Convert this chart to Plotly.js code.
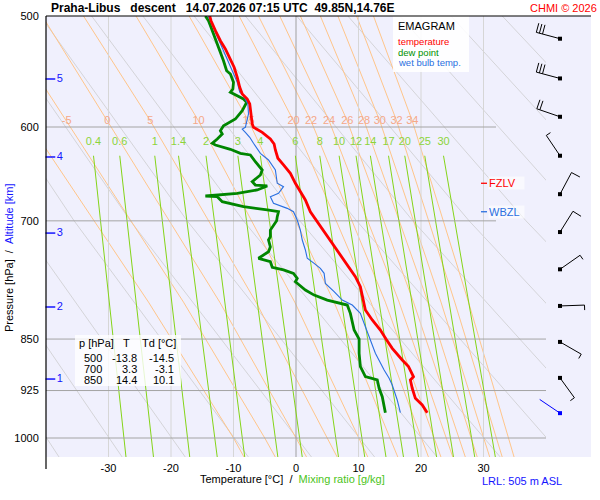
<!DOCTYPE html>
<html><head><meta charset="utf-8">
<script src="https://cdn.plot.ly/plotly-3.0.1.min.js"></script>
<style>html,body{margin:0;padding:0;background:#fff;}#chart{width:600px;height:500px;}</style>
</head><body><div id="chart"></div>
<script>
// ---------------- DATA ----------------
const tempP = [500,503.9,512.2,520.7,527.8,535.1,543.9,553.0,562.1,568.3,573.0,577.7,587.3,597.1,600.3,605.3,611.9,617.0,623.1,631.6,638.6,647.4,658.1,667.3,676.4,689.6,700,708.6,718.4,726.3,734.3,740.3,758.8,767.2,779.9,792.9,810.4,823.8,837.5,850,863.0,879.7,889.4,904.2,909.1,921.6,936.9,947.2,959.3];
const tempT = [-13.8,-13.6,-12.9,-12.1,-11.3,-10.6,-9.9,-9.4,-9.0,-8.6,-7.8,-7.4,-7.2,-7.0,-6.8,-5.4,-4.1,-3.5,-3.3,-2.9,-2.0,-0.9,-0.1,0.7,1.5,2.3,3.3,4.2,5.0,5.8,6.6,7.1,8.7,9.5,10.3,10.6,11.1,12.2,13.5,14.4,15.4,17.0,18.0,18.8,18.3,18.6,19.1,20.2,21.0];
const dewP = [500,503.9,509.4,515.0,522.1,529.3,538.1,547.0,550.0,557.5,563.7,566.7,569.9,573.0,576.2,584.2,592.2,598.7,603.7,606.9,611.9,616.3,618.0,622.4,626.5,628.2,635.2,643.9,649.2,656.4,660.0,661.0,665.4,669.0,672.0,672.8,678.3,683.9,687.6,689.6,695.2,700,710.7,718.4,722.4,730.5,736.4,744.4,748.6,755.5,758.8,763.0,769.3,773.6,784.3,790.8,797.3,801.6,803.8,814.9,837.5,850,870.1,889.4,904.2,909.1,921.6,934.4,959.3];
const dewT = [-14.5,-14.0,-13.6,-13.2,-12.6,-12.1,-11.6,-11.1,-10.5,-10.0,-10.1,-10.5,-9.4,-8.4,-7.9,-8.6,-9.7,-11.6,-12.1,-11.8,-12.6,-13.4,-12.9,-10.5,-8.9,-7.3,-6.5,-5.4,-5.7,-7.0,-6.5,-4.6,-6.2,-9.4,-14.5,-12.6,-11.8,-8.4,-4.6,-2.8,-3.0,-3.1,-4.1,-4.1,-4.4,-4.1,-4.4,-6.0,-4.1,-3.8,-2.0,-0.4,0.2,-0.1,1.5,2.9,5.0,7.1,8.2,8.7,9.3,10.1,10.1,10.3,11.1,13.0,13.3,13.8,14.3];
const wbP = [500,503.9,513.6,523.5,529.3,539.5,548.5,557.5,566.7,569.9,577.7,587.3,600.3,602.0,605.3,610.2,616.3,626.5,633.4,643.9,658.1,661.8,669.0,672.8,680.1,685.8,689.6,699.0,710.7,722.4,734.3,744.4,750.6,756.8,763.0,775.7,786.4,797.3,803.8,814.9,833.0,846.7,870.1,894.3,906.6,916.7,939.5,959.3];
const wbT = [-14.1,-13.7,-12.9,-12.1,-11.6,-10.8,-10.1,-9.4,-9.0,-8.4,-7.7,-7.6,-8.1,-8.6,-8.1,-7.4,-6.8,-5.7,-4.4,-3.3,-3.0,-2.0,-2.8,-4.1,-3.6,-1.4,-0.4,0.2,0.7,1.0,1.5,1.8,2.9,3.9,4.5,4.7,6.1,7.4,9.0,10.3,11.1,11.7,12.7,14.1,14.9,15.4,16.2,16.7];

// table
const tableP  = [500, 700, 850];
const tableT  = [-13.8, 3.3, 14.4];
const tableTd = [-14.5, -3.1, 10.1];

// wind
const windP   = [519, 554, 590, 629, 670, 713, 758, 805, 854, 906, 960];
const windDir = [285, 285, 289, 326, 28, 32, 55, 88, 120, 144, 304];
const windSpd = [30, 30, 20, 5, 10, 10, 5, 5, 5, 5, 2];

// altitude marks (km) at pressure
const altKm = [1, 2, 3, 4, 5];
const altP  = [907.7, 806.4, 714.2, 630.3, 554.5];

// freezing / wet-bulb zero levels
const levelNames = ['FZLV', 'WBZL'];
const levelP     = [658.1, 689.6];

// axes ticks
const tTicks = [-30, -20, -10, 0, 10, 20, 30];
const pTicks = [500, 600, 700, 850, 925, 1000];
const gridP    = [600, 700, 850, 925, 1000];
const gridEndT = [32, 32, 40, 40, 40];

// mixing ratio lines (g/kg): temperature at top and bottom pressure
const mixLabels = ['0.4','0.6','1','1.4','2','3','4','6','8','10','12','14','17','20','25','30'];
const mixTopT = [-32.4,-28.2,-22.6,-18.8,-14.4,-9.3,-5.7,-0.1,3.8,6.9,9.6,11.9,14.8,17.4,20.6,23.6];
const mixBotT = [-27.2,-22.8,-17.0,-12.6,-8.2,-2.9,1.0,6.8,11.0,14.4,17.2,19.6,22.5,25.2,28.6,31.9];
const mixTopP = 629, mixBotP = 1032, mixLabelP = 615;

// saturated (pseudo) adiabats, labelled by wet-bulb potential temperature
const saTheta = [-10,-5,0,5,10,15,20,22,24,26,28,30,32,34];
const saP = [500, 594, 800, 1000, 1032];
const saT = [
  [-54.0,-43.0,-23.6,-10,-8.3],
  [-47.6,-36.7,-18.0,-5,-3.3],
  [-40.6,-30.2,-12.2,0,1.7],
  [-34.0,-23.3,-6.4,5,6.6],
  [-25.6,-15.6,-0.2,10,11.5],
  [-17.1,-7.6,6.1,15,16.3],
  [-9.1,-0.4,12.0,20,21.2],
  [-6.0,2.4,14.3,22,23.2],
  [-2.6,5.3,16.5,24,25.1],
  [0.7,8.2,18.8,26,27.1],
  [3.9,10.9,21.1,28,29.0],
  [6.7,13.4,23.2,30,31.0],
  [9.7,16.1,25.4,32,33.0],
  [12.4,18.6,27.6,34,34.9]
];
const saLabelP = 594;

// dry adiabats: temperature at 500, 700, 1032 hPa
const dryP = [500, 700, 1032];
const dryT = [
  [-81.9,-62.6,-37.9],[-73.7,-53.6,-27.8],[-65.5,-44.5,-17.7],[-57.3,-35.5,-7.6],
  [-49.1,-26.5,2.5],[-40.9,-17.4,12.6],[-32.7,-8.4,22.6],[-24.5,0.6,32.7],
  [-16.3,9.7,42.8],[-8.1,18.7,52.9],[0.1,27.7,63.0],[8.3,36.8,73.1],
  [16.6,45.8,83.2],[24.8,54.8,93.3],[33.0,63.8,103.4]
];

// ---------------- LAYOUT GEOMETRY ----------------
const W=600, H=500, ML=46, MR=9, MT=16, MB=43;
const PW=W-ML-MR, PH=H-MT-MB;
const P_TOP=500, P_BOT=1031.7;
const X_MIN=-40, X_MAX=40, X_MAX_FULL=47.2;
const X_DOM = (X_MAX-X_MIN)/(X_MAX_FULL-X_MIN);
const px2x = px => (px-ML)/PW;
const py2y = py => (H-MB-py)/PH;
const FONT = 'Liberation Sans, Arial, sans-serif';
const BG = '#f0f0fd';
const BLUE = '#1414ff';

function joinLines(xs, ys){
  const X=[], Y=[];
  for(let i=0;i<xs.length;i++){ X.push(...xs[i], null); Y.push(...ys[i], null); }
  return {x:X, y:Y};
}

const traces = [];
const L = (o)=>traces.push(Object.assign({xaxis:'x', yaxis:'y', hoverinfo:'skip'}, o));
// dry adiabats
let d = joinLines(dryT, dryT.map(()=>dryP));
L({x:d.x, y:d.y, mode:'lines', line:{color:'#d4d4d8', width:1}});
// saturated adiabats
d = joinLines(saT, saT.map(()=>saP));
L({x:d.x, y:d.y, mode:'lines', line:{color:'#ffc58a', width:1}});
// vertical isotherms
const lightT = tTicks.filter(t=>t!==0);
d = joinLines(lightT.map(t=>[t,t]), lightT.map(()=>[P_TOP,P_BOT]));
L({x:d.x, y:d.y, mode:'lines', line:{color:'#d6d6d6', width:1}});
L({x:[0,0], y:[P_TOP,P_BOT], mode:'lines', line:{color:'#a0a0a0', width:1}});
// mixing ratio lines
d = joinLines(mixTopT.map((t,i)=>[t, mixBotT[i]]), mixTopT.map(()=>[mixTopP, mixBotP]));
L({x:d.x, y:d.y, mode:'lines', line:{color:'#84d418', width:1}});
// horizontal grid
d = joinLines(gridP.map((p,i)=>[X_MIN, gridEndT[i]]), gridP.map(p=>[p,p]));
L({x:d.x, y:d.y, mode:'lines', line:{color:'#a4a4a4', width:1}});
// labels
const saLabIdx = saTheta.map((t,i)=>i).filter(i=>saTheta[i]>=-5);
L({x:saLabIdx.map(i=>saT[i][1]), y:saLabIdx.map(()=>saLabelP), text:saLabIdx.map(i=>String(saTheta[i])),
  mode:'text', textposition:'middle center', textfont:{family:FONT, size:11, color:'#f5a888'}, cliponaxis:false});
L({x:mixTopT, y:mixTopT.map(()=>mixLabelP), text:mixLabels, mode:'text', textposition:'middle center',
  textfont:{family:FONT, size:11, color:'#8cd43a'}, cliponaxis:false});
// altitude marks
const ALT_TICK_X = -39.3, ALT_TEXT_X = -37.8;
L({x:altKm.map(()=>ALT_TICK_X), y:altP, mode:'markers', marker:{symbol:'line-ew-open', size:7, color:BLUE, line:{width:1.5, color:BLUE}}, cliponaxis:false});
L({x:altKm.map(()=>ALT_TEXT_X), y:altP, text:altKm.map(String), mode:'text', textposition:'middle center',
  textfont:{family:FONT, size:11, color:BLUE}});
// profiles
L({x:dewT, y:dewP, mode:'lines', line:{color:'#008600', width:2.8}});
L({x:wbT, y:wbP, mode:'lines', line:{color:'#2a6fe0', width:1.1}});
L({x:tempT, y:tempP, mode:'lines', line:{color:'#ff0000', width:2.8}});

// wind barbs and level dashes (drawn on a full-width overlay x axis)
const pxPerX = PW/(X_MAX_FULL-X_MIN);
const pxPerLn = PH/Math.log(P_BOT/P_TOP);
const xOfPx = px => X_MIN + (px-ML)/pxPerX;
const BARB_X = xOfPx(560);
const SHAFT=24.5, FULL=9.5, HALF=5, SPACE=3.2;
function pt(p, dx, dy){ return [BARB_X + dx/pxPerX, p*Math.exp(dy/pxPerLn)]; }
windP.forEach((p,i)=>{
  const b = windDir[i]*Math.PI/180;
  const u = [Math.sin(b), -Math.cos(b)];
  const n = [-u[1], u[0]];
  const X=[], Y=[];
  const seg=(a,c)=>{ const A=pt(p,a[0],a[1]), C=pt(p,c[0],c[1]); X.push(A[0],C[0],null); Y.push(A[1],C[1],null); };
  seg([0,0],[u[0]*SHAFT,u[1]*SHAFT]);
  const full = Math.floor(windSpd[i]/10), half = (windSpd[i]%10)>=5;
  let dist = SHAFT;
  for(let k=0;k<full;k++){ const s=[u[0]*dist,u[1]*dist]; seg(s,[s[0]+n[0]*FULL, s[1]+n[1]*FULL]); dist-=SPACE; }
  if(half){ const s=[u[0]*dist,u[1]*dist]; seg(s,[s[0]+n[0]*HALF, s[1]+n[1]*HALF]); }
  const col = (i===windP.length-1) ? '#0000ff' : '#000000';
  traces.push({x:X, y:Y, xaxis:'x2', yaxis:'y', mode:'lines', line:{color:col, width:1}, hoverinfo:'skip'});
  traces.push({x:[BARB_X], y:[p], xaxis:'x2', yaxis:'y', mode:'markers', marker:{symbol:'square', size:4, color:col}, hoverinfo:'skip'});
});
const levelCol = ['#ff0000', '#2a6fe0'];
levelP.forEach((p,i)=>{
  traces.push({x:[xOfPx(481), xOfPx(487)], y:[p,p], xaxis:'x2', yaxis:'y', mode:'lines', line:{color:levelCol[i], width:1.3}, hoverinfo:'skip'});
});

// ---------------- ANNOTATIONS & SHAPES ----------------
const ann = [];
const A = (o)=>ann.push(Object.assign({xref:'paper', yref:'paper', showarrow:false, borderpad:0, font:{family:FONT, size:11, color:'#000'}}, o));
A({x:px2x(50), y:py2y(8), xanchor:'left', yanchor:'middle',
   text:'<b>Praha-Libus\u00a0\u00a0\u00a0descent\u00a0\u00a0\u00a014.07.2026 07:15 UTC\u00a0\u00a049.85N,14.76E</b>', font:{family:FONT, size:12, color:'#000'}});
A({x:px2x(598), y:py2y(8), xanchor:'right', yanchor:'middle', text:'CHMI \u00a9 2026', font:{family:FONT, size:11, color:'#ff0000'}});
// legend box
A({x:px2x(397), y:py2y(26), xanchor:'left', yanchor:'middle', text:'EMAGRAM', font:{family:FONT, size:11, color:'#000'}});
A({x:px2x(397), y:py2y(41.5), xanchor:'left', yanchor:'middle', text:'temperature', font:{family:FONT, size:9.5, color:'#ff0000'}});
A({x:px2x(397), y:py2y(52.5), xanchor:'left', yanchor:'middle', text:'dew point', font:{family:FONT, size:9.5, color:'#009000'}});
A({x:px2x(397), y:py2y(63), xanchor:'left', yanchor:'middle', text:'wet bulb temp.', font:{family:FONT, size:9.5, color:'#2a6fe0'}});
// table
A({x:px2x(78), y:py2y(343), xanchor:'left', yanchor:'middle', text:'p [hPa]'});
A({x:px2x(126), y:py2y(343), xanchor:'center', yanchor:'middle', text:'T'});
A({x:px2x(141), y:py2y(343), xanchor:'left', yanchor:'middle', text:'Td [\u00b0C]'});
const rowY = [358, 369, 380];
tableP.forEach((p,i)=>{
  A({x:px2x(103), y:py2y(rowY[i]), xanchor:'right', yanchor:'middle', text:String(p)});
  A({x:px2x(138), y:py2y(rowY[i]), xanchor:'right', yanchor:'middle', text:tableT[i].toFixed(1)});
  A({x:px2x(175), y:py2y(rowY[i]), xanchor:'right', yanchor:'middle', text:tableTd[i].toFixed(1)});
});
// levels
const shapes = [];
shapes.push({type:'rect', xref:'paper', yref:'paper', x0:0, x1:1, y0:0, y1:1, fillcolor:BG, line:{width:0}, layer:'below'});
levelNames.forEach((nm,i)=>{
  ann.push({xref:'paper', yref:'y', x:px2x(487.5), y:Math.log10(levelP[i]), xanchor:'left', yanchor:'middle', showarrow:false,
    text:nm, width:35, align:'left', bgcolor:'rgba(255,255,255,0.6)', borderpad:0, font:{family:FONT, size:11, color:levelCol[i]}});
});
// axis titles
A({x:px2x(9), y:py2y(258), xanchor:'center', yanchor:'middle', textangle:-90,
   text:'Pressure [hPa]\u00a0\u00a0/\u00a0\u00a0<span style="color:#1414ff">Altitude [km]</span>'});
A({x:px2x(292), y:py2y(479), xanchor:'center', yanchor:'middle',
   text:'Temperature [\u00b0C]\u00a0\u00a0/\u00a0\u00a0<span style="color:#4cc41a">Mixing ratio [g/kg]</span>'});
A({x:px2x(481), y:py2y(481), xanchor:'left', yanchor:'middle', text:'LRL: 505 m ASL', font:{family:FONT, size:11, color:BLUE}});

shapes.push({type:'rect', xref:'paper', yref:'paper', x0:px2x(393), x1:px2x(469), y0:py2y(72), y1:1, fillcolor:'rgba(255,255,255,0.88)', line:{width:0}, layer:'above'});
shapes.push({type:'rect', xref:'paper', yref:'paper', x0:px2x(75), x1:px2x(181), y0:py2y(386), y1:py2y(335), fillcolor:'rgba(255,255,255,0.8)', line:{width:0}, layer:'above'});
shapes.push({type:'line', xref:'paper', yref:'paper', x0:0, x1:0, y0:py2y(469), y1:1, line:{color:'#000', width:1.2}, layer:'above'});
shapes.push({type:'line', xref:'paper', yref:'paper', x0:0, x1:1, y0:1, y1:1, line:{color:'#000', width:1.2}, layer:'above'});

const layout = {
  width:W, height:H, margin:{l:ML, r:MR, t:MT, b:MB, pad:0},
  paper_bgcolor:'#ffffff', plot_bgcolor:'rgba(0,0,0,0)', showlegend:false,
  font:{family:FONT, size:11, color:'#000'},
  xaxis:{domain:[0,X_DOM], range:[X_MIN,X_MAX], anchor:'y', tickvals:tTicks, ticktext:tTicks.map(String),
    showgrid:false, zeroline:false, showline:false, ticks:'outside', ticklen:1, tickcolor:'rgba(0,0,0,0)', tickfont:{family:FONT,size:11,color:'#000'}, fixedrange:true},
  xaxis2:{domain:[0,1], range:[X_MIN,X_MAX_FULL], anchor:'y', visible:false, fixedrange:true},
  yaxis:{type:'log', range:[Math.log10(P_BOT), Math.log10(P_TOP)], anchor:'x', tickvals:pTicks, ticktext:pTicks.map(String),
    showgrid:false, zeroline:false, showline:false, ticks:'outside', ticklen:4, tickcolor:'rgba(0,0,0,0)', tickfont:{family:FONT,size:11,color:'#000'}, fixedrange:true},
  annotations:ann, shapes:shapes
};
Plotly.newPlot('chart', traces, layout, {displayModeBar:false, staticPlot:true});
</script></body></html>
